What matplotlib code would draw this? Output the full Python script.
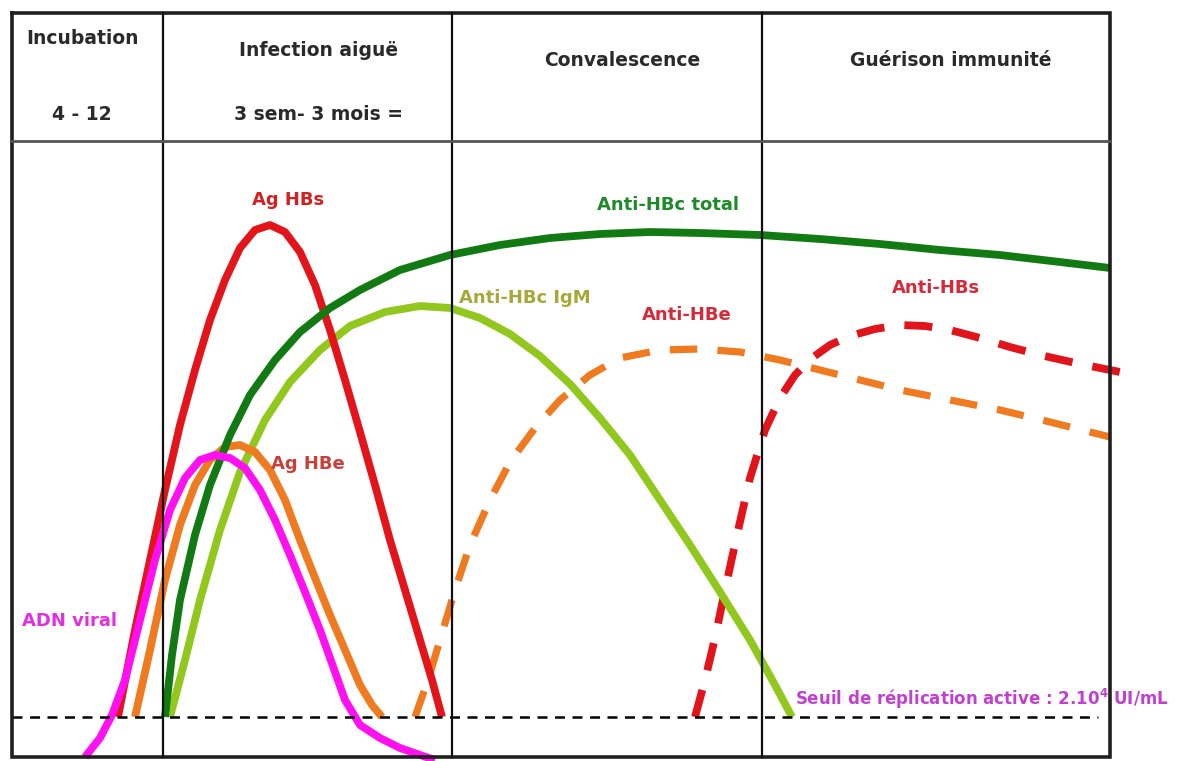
import matplotlib
matplotlib.use("Agg")
import matplotlib.pyplot as plt

plt.rcParams['font.family'] = ['DejaVu Sans']

# ---- data (in picture units: x to the right, y downward) ----
phase_titles = ["Incubation", "Infection aiguë", "Convalescence", "Guérison immunité"]
phase_sub = ["4 - 12", "3 sem- 3 mois =", "", ""]
phase_edges = [12, 163, 452, 762, 1110]
header_bottom = 141
box_top, box_bottom = 13, 757
threshold_y = 717

ag_hbs_x = [118, 135, 150, 165, 180, 195, 210, 225, 240, 255, 270, 285, 300, 315, 330, 345, 360, 375, 390, 405, 420, 432, 442]
ag_hbs_y = [717, 630, 560, 490, 425, 370, 320, 280, 248, 230, 225, 232, 252, 285, 330, 380, 432, 485, 540, 590, 640, 680, 717]

adn_x = [85, 100, 112, 125, 140, 155, 170, 185, 200, 215, 230, 245, 260, 275, 290, 305, 320, 335, 345, 360, 380, 400, 420, 435]
adn_y = [757, 738, 715, 680, 620, 560, 510, 478, 460, 455, 458, 468, 490, 520, 555, 592, 630, 672, 700, 725, 738, 748, 755, 760]

ag_hbe_x = [135, 150, 165, 180, 195, 210, 225, 240, 255, 270, 285, 300, 315, 330, 345, 360, 372, 382]
ag_hbe_y = [717, 650, 580, 525, 485, 460, 447, 445, 452, 470, 500, 540, 578, 615, 650, 685, 705, 717]

hbc_tot_x = [165, 172, 180, 195, 210, 230, 250, 275, 300, 330, 360, 400, 450, 500, 550, 600, 650, 700, 760, 820, 880, 940, 1000, 1060, 1110]
hbc_tot_y = [717, 655, 600, 535, 485, 435, 395, 360, 332, 308, 290, 270, 255, 245, 238, 234, 232, 233, 235, 239, 244, 250, 255, 262, 268]

hbc_igm_x = [170, 185, 200, 220, 240, 265, 290, 320, 350, 385, 420, 450, 480, 510, 540, 570, 600, 630, 660, 690, 720, 750, 775, 792]
hbc_igm_y = [717, 660, 600, 530, 472, 420, 382, 350, 326, 312, 306, 308, 318, 334, 356, 384, 418, 455, 500, 545, 592, 640, 685, 717]

anti_hbe_x = [415, 428, 440, 455, 470, 490, 510, 535, 560, 590, 620, 660, 700, 740, 780, 820, 860, 900, 950, 1000, 1050, 1110]
anti_hbe_y = [717, 680, 640, 590, 545, 500, 462, 428, 400, 375, 358, 350, 349, 352, 360, 370, 380, 390, 400, 410, 422, 437]

anti_hbs_x = [695, 705, 715, 725, 737, 750, 765, 780, 795, 812, 830, 850, 875, 900, 925, 950, 980, 1010, 1040, 1080, 1125]
anti_hbs_y = [717, 680, 638, 590, 535, 478, 430, 398, 375, 358, 345, 336, 329, 325, 326, 330, 338, 347, 355, 364, 373]

threshold_label = "Seuil de réplication active : 2.10$^{\\mathbf{4}}$ UI/mL"

# ---- figure ----
fig = plt.figure(figsize=(11.99, 7.61), dpi=100)
ax = fig.add_axes([0, 0, 1, 1])
ax.set_xlim(0, 1199)
ax.set_ylim(761, 0)
ax.axis('off')

# frame
L, R = phase_edges[0], phase_edges[-1]
ax.plot([L, R, R, L, L], [box_top, box_top, box_bottom, box_bottom, box_top], color='#202020', lw=2.6, solid_joinstyle='miter', zorder=5)
for xe in phase_edges[1:-1]:
    ax.plot([xe, xe], [box_top, box_bottom], color='#101010', lw=1.6, zorder=5)
ax.plot([L, R], [header_bottom, header_bottom], color='#555555', lw=2.0, zorder=5)

# header text
hdr = dict(ha='center', va='center', fontsize=13.5, fontweight='bold', color='#2a2a2a')
title_x = [82, 319, 622, 951]
title_y = [38, 50, 61, 60]
for i, t in enumerate(phase_titles):
    ax.text(title_x[i], title_y[i], t, **hdr)
    if phase_sub[i]:
        ax.text(title_x[i], 115, phase_sub[i], **hdr)

# threshold
ax.plot([L, R - 12], [threshold_y, threshold_y], color='black', lw=1.8, linestyle=(0, (4, 3)), zorder=4)

# curves
kw = dict(lw=5.6, solid_capstyle='butt', solid_joinstyle='round')
ax.plot(anti_hbe_x, anti_hbe_y, color='#f07a20', linestyle=(0, (3.8, 2.8)), lw=5.2, dash_capstyle='butt', zorder=2)
ax.plot(anti_hbs_x, anti_hbs_y, color='#e0141a', linestyle=(0, (3.6, 2.6)), lw=5.6, dash_capstyle='butt', zorder=2)
ax.plot(hbc_igm_x, hbc_igm_y, color='#92c81e', zorder=2, **kw)
ax.plot(hbc_tot_x, hbc_tot_y, color='#127a12', zorder=3, **kw)
ax.plot(ag_hbs_x, ag_hbs_y, color='#e3141a', zorder=2, **kw)
ax.plot(ag_hbe_x, ag_hbe_y, color='#f07a20', zorder=2, **kw)
ax.plot(adn_x, adn_y, color='#ff10f0', zorder=3, **kw)

# curve labels
lab = dict(ha='center', va='center', fontsize=13, fontweight='bold')
ax.text(288, 200, "Ag HBs", color='#d42020', **lab)
ax.text(308, 464, "Ag HBe", color='#c8403a', **lab)
ax.text(668, 205, "Anti-HBc total", color='#1f8a2a', **lab)
ax.text(525, 298, "Anti-HBc IgM", color='#a8a838', **lab)
ax.text(687, 315, "Anti-HBe", color='#d42a3a', **lab)
ax.text(936, 288, "Anti-HBs", color='#d42a3a', **lab)
ax.text(70, 621, "ADN viral", color='#e030e0', **lab)
ax.text(795, 699, threshold_label, color='#c040d0', ha='left', va='center', fontsize=12, fontweight='bold', zorder=3)

fig.savefig("out.png", dpi=100, facecolor='white')
